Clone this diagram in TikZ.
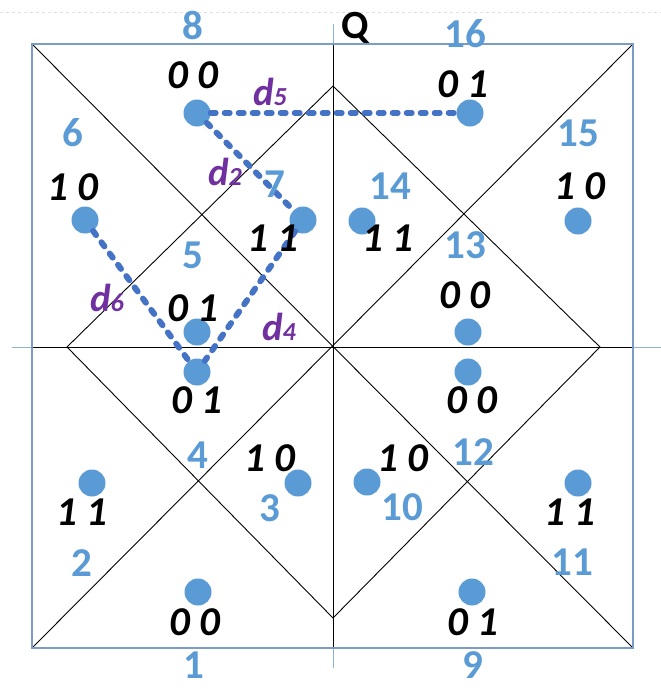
\documentclass[tikz,border=0pt]{standalone}
\usepackage{fontspec}
\setmainfont{Carlito}
\definecolor{numblue}{HTML}{5B9BD5}
\definecolor{dotblue}{HTML}{5B9BD5}
\definecolor{dashblue}{HTML}{4472C4}
\definecolor{framecol}{HTML}{7A9CC6}
\definecolor{axisout}{HTML}{8DB3D6}
\definecolor{dpurple}{HTML}{7030A0}
\tikzset{
  num/.style={text=numblue, inner sep=0pt, font=\fontsize{41}{41}\selectfont\bfseries},
  bits/.style={text=black, inner sep=0pt, font=\fontsize{41}{41}\selectfont\bfseries\itshape},
  dlab/.style={text=dpurple, inner sep=0pt, font=\fontsize{39}{39}\selectfont\bfseries\itshape},
  pt/.style={circle, fill=dotblue, draw=none, minimum size=27pt, inner sep=0pt},
  dl/.style={draw=dashblue, line width=6pt, dash pattern=on 5pt off 9pt, line cap=round},
  thinline/.style={draw=black, line width=0.9pt},
}
\newcommand{\dsub}[2]{#1{\fontsize{26}{26}\selectfont #2}}
\begin{document}
\begin{tikzpicture}[x=1pt,y=-1pt]
\useasboundingbox (0,0) rectangle (661,689);
\fill[white] (0,0) rectangle (661,689);
% faint top line
\draw[black!12, dashed, line width=0.6pt] (0,12) -- (661,12);
% coordinates
\coordinate (TL) at (32,44);
\coordinate (TR) at (633,44);
\coordinate (BR) at (633,648);
\coordinate (BL) at (32,648);
\coordinate (DT) at (333,86);
\coordinate (DR) at (600,347);
\coordinate (DB) at (333,618);
\coordinate (DL) at (67,347);
\coordinate (AxL) at (12,347);
\coordinate (AxR) at (661,347);
\coordinate (AxT) at (333,24);
\coordinate (AxB) at (333,668);
\coordinate (SqL) at (32,347);
\coordinate (SqR) at (633,347);
\coordinate (SqT) at (333,44);
\coordinate (SqB) at (333,648);
% axes outside
\draw[axisout, line width=1pt] (AxL) -- (SqL);
\draw[axisout, line width=1pt] (SqR) -- (AxR);
\draw[axisout, line width=1pt] (AxT) -- (SqT);
\draw[axisout, line width=1pt] (SqB) -- (AxB);
% axes inside
\draw[thinline] (SqL) -- (SqR);
\draw[thinline] (SqT) -- (SqB);
% diagonals and diamond
\draw[thinline] (TL) -- (BR);
\draw[thinline] (TR) -- (BL);
\draw[thinline] (DT) -- (DR) -- (DB) -- (DL) -- cycle;
% frame
\draw[framecol, line width=1.2pt] (TL) rectangle (BR);
% dots
\node[pt] (p8) at (197,113) {};
\node[pt] (p16) at (470,113) {};
\node[pt] (p6) at (85,220) {};
\node[pt] (p7) at (303,220) {};
\node[pt] (p14) at (362,221) {};
\node[pt] (p15) at (578,221) {};
\node[pt] (p5) at (197,332) {};
\node[pt] (p13) at (468,332) {};
\node[pt] (p4) at (197,372) {};
\node[pt] (p12) at (468,372) {};
\node[pt] (p2) at (92,483) {};
\node[pt] (p3) at (298,483) {};
\node[pt] (p10) at (367,482) {};
\node[pt] (p11) at (578,483) {};
\node[pt] (p1) at (198,592) {};
\node[pt] (p9) at (472,592) {};
% dashed distances
\draw[dl] (p8) -- (p16);
\draw[dl] (p8) -- (p7);
\draw[dl] (p7) -- (p4);
\draw[dl] (p6) -- (p4);
% region numbers
\node[num] (n8) at (193,25) {8};
\node[num] (n16) at (465,34) {16};
\node[num] (n6) at (73,133) {6};
\node[num] (n15) at (578,133) {15};
\node[num] (n7) at (275,184) {7};
\node[num] (n14) at (390,186) {14};
\node[num] (n13) at (465,245) {13};
\node[num] (n5) at (193,255) {5};
\node[num] (n4) at (198,455) {4};
\node[num] (n12) at (473,452) {12};
\node[num] (n3) at (270,508) {3};
\node[num] (n10) at (402,507) {10};
\node[num] (n2) at (82,563) {2};
\node[num] (n11) at (572,562) {11};
\node[num] (n1) at (194,665) {1};
\node[num] (n9) at (473,665) {9};
% Q label
\node[inner sep=0pt, font=\fontsize{40}{40}\selectfont\bfseries] (Q) at (355,28) {Q};
% bit labels
\node[bits] (b8) at (193,75) {0 0};
\node[bits] (b16) at (463,84) {0 1};
\node[bits] (b6) at (73,187) {1 0};
\node[bits] (b15) at (580,186) {1 0};
\node[bits] (b7) at (273,238) {1 1};
\node[bits] (b14) at (388,238) {1 1};
\node[bits] (b13) at (465,295) {0 0};
\node[bits] (b5) at (193,308) {0 1};
\node[bits] (b4) at (197,400) {0 1};
\node[bits] (b12) at (472,400) {0 0};
\node[bits] (b3) at (270,458) {1 0};
\node[bits] (b10) at (403,458) {1 0};
\node[bits] (b2) at (82,512) {1 1};
\node[bits] (b11) at (570,512) {1 1};
\node[bits] (b1) at (195,622) {0 0};
\node[bits] (b9) at (473,622) {0 1};
% distance labels
\node[dlab] (d5) at (270,92) {\dsub{d}{5}};
\node[dlab] (d2) at (225,172) {\dsub{d}{2}};
\node[dlab] (d6) at (107,298) {\dsub{d}{6}};
\node[dlab] (d4) at (279,327) {\dsub{d}{4}};
\end{tikzpicture}
\end{document}
